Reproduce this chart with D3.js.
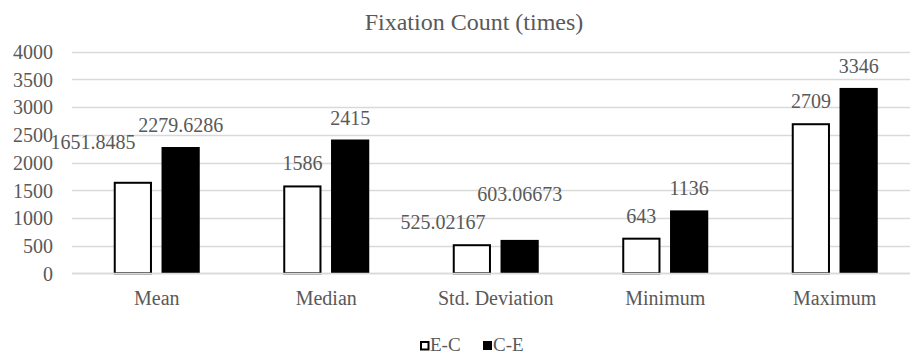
<!DOCTYPE html>
<html>
<head>
<meta charset="utf-8">
<script src="https://cdn.jsdelivr.net/npm/d3@7"></script>
<style>
  html, body { margin: 0; padding: 0; background: #fff; }
  svg { display: block; }
  text { font-family: "Liberation Serif", "Times New Roman", serif; fill: #595959; }
</style>
</head>
<body>
<script>
// Chart data
const categories = ["Mean", "Median", "Std. Deviation", "Minimum", "Maximum"];
const seriesNames = ["E-C", "C-E"];
const ecValues = [1651.8485, 1586, 525.02167, 643, 2709];
const ceValues = [2279.6286, 2415, 603.06673, 1136, 3346];
const ecLabels = ["1651.8485", "1586", "525.02167", "643", "2709"];
const ceLabels = ["2279.6286", "2415", "603.06673", "1136", "3346"];
const yTicks = [0, 500, 1000, 1500, 2000, 2500, 3000, 3500, 4000];
const chartTitle = "Fixation Count (times)";

// Manual nudges for labels that would otherwise collide [dx, dy]
const ecNudge = [[-40, -18], [0, 0], [-29, 0], [0, 0], [0, 0]];
const ceNudge = [[0, 0], [0, 0], [0, -24], [0, 0], [0, 0]];

const W = 910, H = 353;
const plot = { left: 72, right: 919.5, top: 51.7, bottom: 273.3 };

const svg = d3.select("body").append("svg")
  .attr("width", W).attr("height", H);

const y = d3.scaleLinear().domain([0, 4000]).range([plot.bottom, plot.top]);
const x0 = d3.scaleBand().domain(categories).range([plot.left, plot.right]).padding(0);
const pairW = 86;
const x1 = d3.scaleBand().domain(seriesNames).range([0, pairW]).paddingInner(0.2);
const pairOffset = (x0.bandwidth() - pairW) / 2;

// Gridlines
svg.append("g").selectAll("line").data(yTicks).join("line")
  .attr("x1", plot.left).attr("x2", W)
  .attr("y1", d => Math.round(y(d)) + 0.5).attr("y2", d => Math.round(y(d)) + 0.5)
  .attr("stroke", "#d9d9d9").attr("stroke-width", 1.3);

// Y axis labels
const yAxis = d3.axisLeft(y).tickValues(yTicks).tickFormat(d3.format("d"))
  .tickSize(0).tickPadding(0);
const yg = svg.append("g").attr("transform", `translate(${53},0)`).call(yAxis);
yg.select(".domain").remove();
yg.selectAll("text")
  .attr("font-size", 20).attr("dy", "0.34em");

const rows = categories.map((c, i) => ({
  cat: c,
  bars: [
    { s: "E-C", v: ecValues[i], label: ecLabels[i], nudge: ecNudge[i] },
    { s: "C-E", v: ceValues[i], label: ceLabels[i], nudge: ceNudge[i] }
  ]
}));

const groups = svg.append("g").selectAll("g").data(rows).join("g")
  .attr("transform", d => `translate(${x0(d.cat) + pairOffset},0)`);

groups.selectAll("rect").data(d => d.bars).join("rect")
  .attr("x", d => x1(d.s) + (d.s === "E-C" ? 1 : 0))
  .attr("y", d => y(d.v) + (d.s === "E-C" ? 1 : 0))
  .attr("width", d => x1.bandwidth() - (d.s === "E-C" ? 2 : 0))
  .attr("height", d => y(0) - y(d.v) - (d.s === "E-C" ? 1 : 0))
  .attr("fill", d => d.s === "E-C" ? "#ffffff" : "#000000")
  .attr("stroke", d => d.s === "E-C" ? "#000000" : "none")
  .attr("stroke-width", 2);

// Baseline drawn over the bar bottoms
svg.append("line")
  .attr("x1", plot.left).attr("x2", W)
  .attr("y1", Math.round(y(0)) + 0.5).attr("y2", Math.round(y(0)) + 0.5)
  .attr("stroke", "#d9d9d9").attr("stroke-width", 1.5);

// Value labels
groups.selectAll("text.val").data(d => d.bars).join("text")
  .attr("class", "val")
  .attr("x", d => x1(d.s) + x1.bandwidth() / 2 + d.nudge[0])
  .attr("y", d => y(d.v) - 15 + d.nudge[1])
  .attr("text-anchor", "middle")
  .attr("font-size", 20)
  .text(d => d.label);

// Category labels
svg.append("g").selectAll("text").data(categories).join("text")
  .attr("x", d => x0(d) + x0.bandwidth() / 2)
  .attr("y", 305)
  .attr("text-anchor", "middle")
  .attr("font-size", 20)
  .text(d => d);

// Title
svg.append("text")
  .attr("x", 474).attr("y", 30)
  .attr("text-anchor", "middle")
  .attr("font-size", 24)
  .text(chartTitle);

// Legend
const legendX = [420, 483];
const lg = svg.append("g").selectAll("g").data(seriesNames).join("g")
  .attr("transform", (d, i) => `translate(${legendX[i]},341)`);
lg.append("rect")
  .attr("x", d => d === "E-C" ? 1 : 0).attr("y", d => d === "E-C" ? 1 : 0)
  .attr("width", d => d === "E-C" ? 7.5 : 9).attr("height", d => d === "E-C" ? 7.5 : 9)
  .attr("fill", d => d === "E-C" ? "#fff" : "#000")
  .attr("stroke", d => d === "E-C" ? "#000" : "none")
  .attr("stroke-width", 2);
lg.append("text")
  .attr("x", 10).attr("y", 9.5)
  .attr("font-size", 19)
  .text(d => d);
</script>
</body>
</html>
